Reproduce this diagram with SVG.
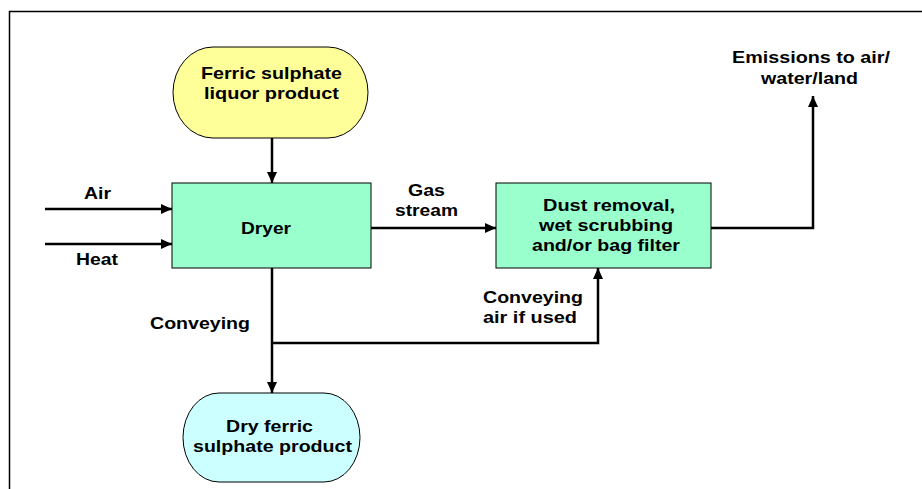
<svg xmlns="http://www.w3.org/2000/svg" width="922" height="489" viewBox="0 0 922 489">
<style>
text{font-family:"Liberation Sans",Arial,sans-serif;font-weight:bold;font-size:16.5px;fill:#000}
.m{text-anchor:middle}
.node{stroke:#000;stroke-width:1}
.c{fill:none;stroke:#000;stroke-width:2.5}
</style>
<defs>
<marker id="ah" markerUnits="userSpaceOnUse" markerWidth="12" markerHeight="12" viewBox="0 0 12 12" refX="11" refY="6" orient="auto">
<path d="M0,1 L11,6 L0,11 Z" fill="#000"/>
</marker>
</defs>
<rect x="9.5" y="11.5" width="1000" height="1000" fill="#fff" stroke="#000" stroke-width="1.5"/>
<g id="connectors">
<line class="c" x1="272" y1="138" x2="272" y2="183" marker-end="url(#ah)"/>
<line class="c" x1="45" y1="209" x2="172" y2="209" marker-end="url(#ah)"/>
<line class="c" x1="45" y1="244" x2="172" y2="244" marker-end="url(#ah)"/>
<line class="c" x1="371" y1="228" x2="496" y2="228" marker-end="url(#ah)"/>
<polyline class="c" points="711,228 813,228 813,96" marker-end="url(#ah)"/>
<line class="c" x1="272" y1="268" x2="272" y2="393" marker-end="url(#ah)"/>
<polyline class="c" points="272,343 598,343 598,268" marker-end="url(#ah)"/>
</g>
<g id="labels">
<text x="84" y="199" textLength="27" lengthAdjust="spacingAndGlyphs">Air</text>
<text x="76" y="265" textLength="42" lengthAdjust="spacingAndGlyphs">Heat</text>
<text class="m" x="426.5" y="196" textLength="37" lengthAdjust="spacingAndGlyphs">Gas</text>
<text class="m" x="426.5" y="216" textLength="63" lengthAdjust="spacingAndGlyphs">stream</text>
<text class="m" x="811" y="63" textLength="158" lengthAdjust="spacingAndGlyphs">Emissions to air/</text>
<text class="m" x="809.5" y="84" textLength="97" lengthAdjust="spacingAndGlyphs">water/land</text>
<text x="150" y="329" textLength="100" lengthAdjust="spacingAndGlyphs">Conveying</text>
<text x="483" y="303" textLength="100" lengthAdjust="spacingAndGlyphs">Conveying</text>
<text x="483" y="323" textLength="94" lengthAdjust="spacingAndGlyphs">air if used</text>
</g>
<g id="ferric-liquor">
<rect class="node" x="173" y="47" width="195" height="91" rx="40" ry="45.5" fill="#FFFF99"/>
<text class="m" x="271.5" y="79" textLength="141" lengthAdjust="spacingAndGlyphs">Ferric sulphate</text>
<text class="m" x="271.5" y="99" textLength="135" lengthAdjust="spacingAndGlyphs">liquor product</text>
</g>
<g id="dryer">
<rect class="node" x="172" y="183" width="199" height="85" fill="#99FFCC"/>
<text class="m" x="266" y="234" textLength="50" lengthAdjust="spacingAndGlyphs">Dryer</text>
</g>
<g id="dust-removal">
<rect class="node" x="496" y="183" width="215" height="85" fill="#99FFCC"/>
<text class="m" x="609" y="211" textLength="132" lengthAdjust="spacingAndGlyphs">Dust removal,</text>
<text class="m" x="606" y="231" textLength="134" lengthAdjust="spacingAndGlyphs">wet scrubbing</text>
<text class="m" x="606" y="251" textLength="148" lengthAdjust="spacingAndGlyphs">and/or bag filter</text>
</g>
<g id="dry-product">
<rect class="node" x="183" y="393" width="177" height="89" rx="36" ry="44.5" fill="#CCFFFF"/>
<text class="m" x="269.5" y="432" textLength="87" lengthAdjust="spacingAndGlyphs">Dry ferric</text>
<text class="m" x="272.5" y="452" textLength="159" lengthAdjust="spacingAndGlyphs">sulphate product</text>
</g>
</svg>
